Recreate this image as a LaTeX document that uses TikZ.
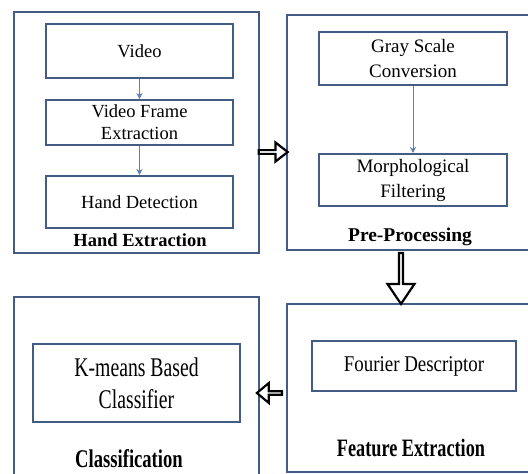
\documentclass[tikz,border=0pt]{standalone}
\usepackage{fontspec}
\setmainfont{Liberation Serif}
\newfontfamily\serifface{Liberation Serif}
\newfontfamily\condensed[FakeStretch=0.73]{Liberation Serif}
\newfontfamily\semicondensed[FakeStretch=0.84]{Liberation Serif}
\usetikzlibrary{positioning, shapes.arrows, arrows.meta}
\definecolor{boxblue}{HTML}{435C84}
\definecolor{linkblue}{HTML}{5A7FB5}
\tikzstyle{stage}    = [rectangle, draw=boxblue, line width=2pt]
\tikzstyle{task}     = [rectangle, draw=boxblue, line width=2pt, minimum width=187pt, text centered, align=center, font=\serifface\fontsize{18.5}{22}\selectfont]
\tikzstyle{caption}  = [font=\serifface\bfseries\fontsize{18.5}{22}\selectfont]
\tikzstyle{bigarrow} = [single arrow, draw=black, line width=2.2pt, fill=white, inner sep=0pt]
\tikzstyle{link}     = [-{Stealth[length=6pt,width=6pt]}, draw=linkblue, line width=0.8pt]

\begin{document}
\begin{tikzpicture}[x=1pt, y=-1pt]
            \useasboundingbox (0,0) rectangle (528,474);
            \clip (0,0) rectangle (528,474);

            % the four stages
            \node[stage, minimum width=245pt, minimum height=241pt] (handbox)  at (136.5,132.5) {};
            \node[stage, minimum width=253pt, minimum height=235pt] (prebox)   at (413.5,132.5) {};
            \node[stage, minimum width=245pt, minimum height=193pt] (classbox) at (136.5,393.5) {};
            \node[stage, minimum width=253pt, minimum height=168pt] (featbox)  at (413.5,388) {};

            % hand extraction
            \node[task, minimum height=54pt] (video)  at (139.5,51) {Video};
            \node[task, minimum height=45pt] (frame)  [below=20pt of video] {Video Frame\\Extraction};
            \node[task, minimum height=52pt] (detect) [below=29pt of frame] {Hand Detection};
            \node[caption] (handlabel) at (140,240) {Hand Extraction};

            % pre-processing
            \node[task, minimum width=188pt, minimum height=53pt, font=\serifface\fontsize{19}{25}\selectfont] (gray) at (413,58.5) {Gray Scale\\Conversion};
            \node[task, minimum width=188pt, minimum height=52pt, font=\serifface\fontsize{19}{25}\selectfont] (morph) [below=67pt of gray] {Morphological\\Filtering};
            \node[caption, font=\serifface\bfseries\fontsize{19.5}{22}\selectfont] (prelabel) at (410,237) {Pre-Processing};

            % feature extraction
            \node[task, minimum width=204pt, minimum height=50pt, font=\semicondensed\fontsize{22.5}{26}\selectfont] (fourier) at (414,366) {Fourier Descriptor};
            \node[caption, font=\condensed\bfseries\fontsize{25}{28}\selectfont] (featlabel) at (411,448) {Feature Extraction};

            % classification
            \node[task, minimum width=207pt, minimum height=78pt, font=\condensed\fontsize{27}{32}\selectfont] (kmeans) at (136.5,383) {K-means Based\\Classifier};
            \node[caption, font=\condensed\bfseries\fontsize{25.5}{28}\selectfont] (classlabel) at (129,459) {Classification};

            % block arrows between stages
            \node[bigarrow, minimum height=29pt, minimum width=19pt, single arrow head extend=4.5pt, single arrow tip angle=76] (toPre) at (272,152) {};
            \node[bigarrow, minimum height=51pt, minimum width=27pt, single arrow head extend=6.5pt, single arrow tip angle=68, shape border rotate=270] (toFeat) at (401,277) {};
            \node[bigarrow, minimum height=25pt, minimum width=20pt, single arrow head extend=5pt, single arrow tip angle=80, shape border rotate=180] (toClass) at (270.5,393) {};

            \draw[link] (video) -- (frame);
            \draw[link] (frame) -- (detect);
            \draw[link] (gray) -- (morph);
        \end{tikzpicture}
\end{document}
